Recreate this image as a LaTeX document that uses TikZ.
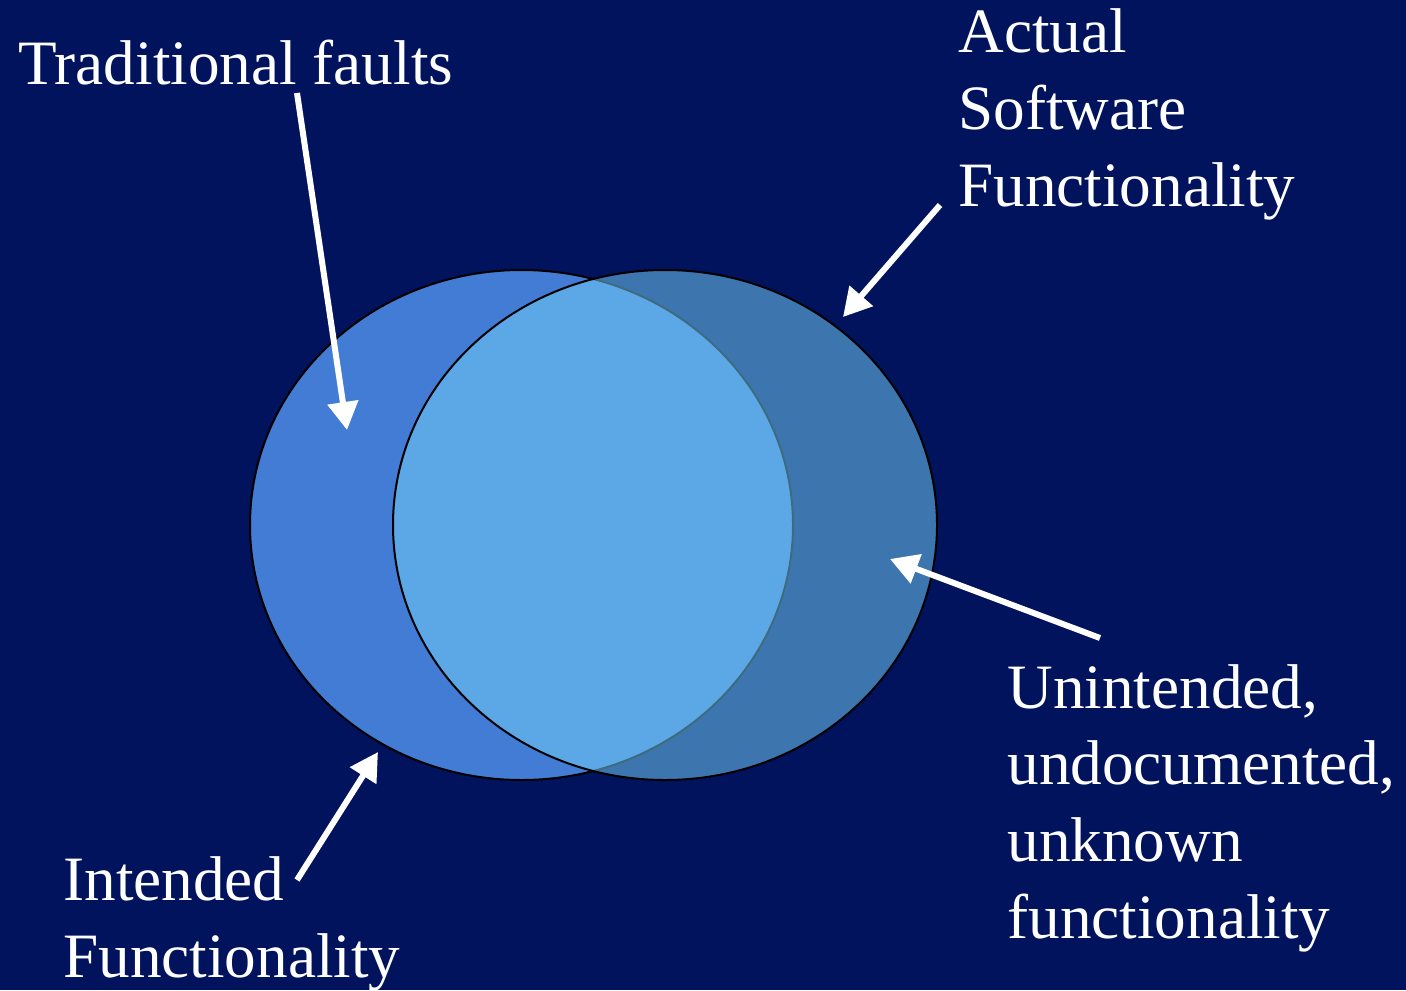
\documentclass[tikz,border=0pt]{standalone}
\usepackage{fontspec}
\setmainfont{Liberation Serif}
\usetikzlibrary{arrows.meta}
\definecolor{navybg}{RGB}{2,19,94}
\definecolor{intendedblue}{RGB}{66,124,212}
\definecolor{actualblue}{RGB}{117,208,248}

\begin{document}
\begin{tikzpicture}[x=0.5pt,y=-0.5pt,
    lbl/.style={text=white, align=left, anchor=base west, inner sep=0pt,
        font=\fontsize{31.6}{38.3}\selectfont},
    pointer/.style={draw=white, line width=3pt, -{Triangle[length=14pt,width=15pt]}}]

        % background, fixes the page size
        \fill[navybg] (0,0) rectangle (1406,990);
        \useasboundingbox (0,0) rectangle (1406,990);

        % Intended functionality (left) and actual functionality (right)
        \coordinate (I) at (521.5,525);
        \coordinate (S) at (665,525);
        \draw[fill=intendedblue, line width=1pt] (I) ellipse [x radius=271.5, y radius=255];
        \fill[actualblue, fill opacity=0.52] (S) ellipse [x radius=272, y radius=255];
        \draw[line width=1pt] (S) ellipse [x radius=272, y radius=255];

        % Labels (base anchor sits on the last line)
        \node[lbl] (faults) at (18,85) {Traditional faults};
        \node[lbl] (actual) at (958,206) {Actual\\Software\\Functionality};
        \node[lbl] (unintended) at (1007,938) {Unintended,\\undocumented,\\unknown\\functionality};
        \node[lbl] (intended) at (63,977) {Intended\\Functionality};

        % Arrow ends
        \coordinate (faultsTail) at (297,93);
        \coordinate (faultsTip) at (347,430);
        \coordinate (actualTail) at (940,205);
        \coordinate (actualTip) at (843,317);
        \coordinate (unTail) at (1100,638);
        \coordinate (unTip) at (890,559);
        \coordinate (intTail) at (297,880);
        \coordinate (intTip) at (378,752);

        \draw[pointer] (faultsTail) -- (faultsTip);
        \draw[pointer] (actualTail) -- (actualTip);
        \draw[pointer] (unTail) -- (unTip);
        \draw[pointer] (intTail) -- (intTip);

    \end{tikzpicture}
\end{document}
